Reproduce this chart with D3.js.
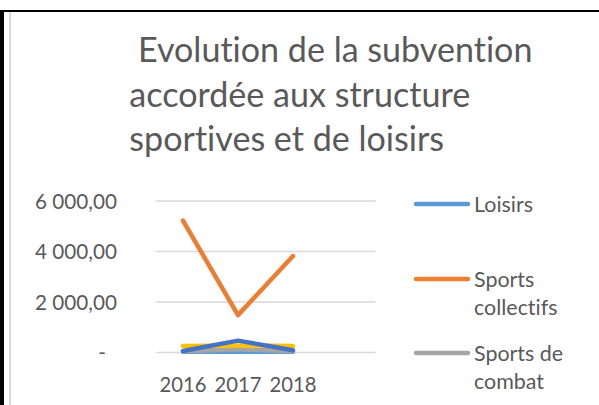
<!DOCTYPE html>
<html><head><meta charset="utf-8">
<script src="https://cdn.jsdelivr.net/npm/d3@7/dist/d3.min.js"></script>
<style>body{margin:0;background:#fff;}svg{display:block;} text{font-variant-ligatures:none;}</style>
</head><body>
<script>
const categories = ["2016", "2017", "2018", ""];
const seriesNames = ["Loisirs", "Sports collectifs", "Sports de combat", "Série 4", "Série 5"];
const loisirs = [30, 30, 30];
const sportsCollectifs = [5220, 1480, 3820];
const sportsCombat = [50, 130, 50];
const serie4 = [260, 280, 260];
const serie5 = [60, 470, 90];
const yTicks = [0, 2000, 4000, 6000];
const yTickLabels = ["-", "2 000,00", "4 000,00", "6 000,00"];
const titleLines = [" Evolution de la subvention", "accordée aux structure", "sportives et de loisirs"];
const colors = ["#5B9BD5", "#ED7D31", "#A5A5A5", "#FFC000", "#4472C4"];
const legendShown = 3;

const W = 599, H = 405;
const font = "Lato, 'Open Sans', sans-serif";
const textColor = "#595959";
const svg = d3.select("body").append("svg").attr("width", W).attr("height", H);

// fit font size to a target width
function fitSize(text, target) {
  const t = svg.append("text").attr("font-family", font).attr("font-size", 100)
    .style("font-variant-ligatures", "none").text(text);
  const w = t.node().getComputedTextLength();
  t.remove();
  return 100 * target / w;
}
const titleSize = fitSize("accordée aux structure", 341);
const ySize = fitSize("6 000,00", 82);
const xSize = fitSize("2016", 47);
const legSize = fitSize("Loisirs", 59);

// frame
svg.append("line").attr("x1", 0).attr("x2", W).attr("y1", 11).attr("y2", 11).attr("stroke", "#000").attr("stroke-width", 2);
svg.append("rect").attr("x", 0).attr("y", 10).attr("width", 4).attr("height", H - 10).attr("fill", "#000");
svg.append("line").attr("x1", 10).attr("x2", 10).attr("y1", 12).attr("y2", H).attr("stroke", "#d9d9d9").attr("stroke-width", 2);

// title
const titleBaselines = [62.3, 106.7, 151];
titleLines.forEach((t, i) => {
  svg.append("text").attr("x", 129.3).attr("y", titleBaselines[i])
    .attr("font-family", font).attr("font-size", titleSize).attr("fill", textColor)
    .style("white-space", "pre").text(t);
});

// scales
const x = d3.scaleBand().domain(categories).range([155.5, 375.5]);
const y = d3.scaleLinear().domain([0, 6000]).range([352.5, 201]);

// gridlines
svg.append("g").selectAll("line").data(yTicks).join("line")
  .attr("x1", 155.5).attr("x2", 375.5)
  .attr("y1", d => y(d)).attr("y2", d => y(d))
  .attr("stroke", "#d9d9d9").attr("stroke-width", 1.5);

// y axis labels
const yAxis = d3.axisLeft(y).tickValues(yTicks).tickSize(0).tickPadding(0)
  .tickFormat((d, i) => yTickLabels[i]);
const yg = svg.append("g").attr("transform", "translate(117,0)").call(yAxis);
yg.select(".domain").remove();
yg.selectAll("text").attr("font-family", font).attr("font-size", ySize).attr("fill", textColor)
  .attr("dy", "0.36em")
  .attr("dx", (d) => d === 0 ? -11 : 0);

// x axis labels
const xAxis = d3.axisBottom(x).tickSize(0).tickPadding(0);
const xg = svg.append("g").attr("transform", "translate(0,391.5)").call(xAxis);
xg.select(".domain").remove();
xg.selectAll("text").attr("font-family", font).attr("font-size", xSize).attr("fill", textColor).attr("dy", 0);

// lines
const allSeries = [loisirs, sportsCollectifs, sportsCombat, serie4, serie5];
const line = d3.line().x((d, i) => x(categories[i]) + x.bandwidth() / 2).y(d => y(d));
allSeries.forEach((s, k) => {
  svg.append("path").datum(s).attr("d", line).attr("fill", "none")
    .attr("stroke", colors[k]).attr("stroke-width", 4.5)
    .attr("stroke-linecap", "round").attr("stroke-linejoin", "round");
});

// legend
const legendItems = [
  {lines: ["Loisirs"], y: 204},
  {lines: ["Sports", "collectifs"], y: 279},
  {lines: ["Sports de", "combat"], y: 353}
];
legendItems.slice(0, legendShown).forEach((it, k) => {
  svg.append("line").attr("x1", 416).attr("x2", 468).attr("y1", it.y).attr("y2", it.y)
    .attr("stroke", colors[k]).attr("stroke-width", 4.5).attr("stroke-linecap", "round");
  it.lines.forEach((t, j) => {
    svg.append("text").attr("x", 474).attr("y", it.y + j * 28).attr("dy", "0.36em")
      .attr("font-family", font).attr("font-size", legSize).attr("fill", textColor).text(t);
  });
});
</script>
</body></html>
